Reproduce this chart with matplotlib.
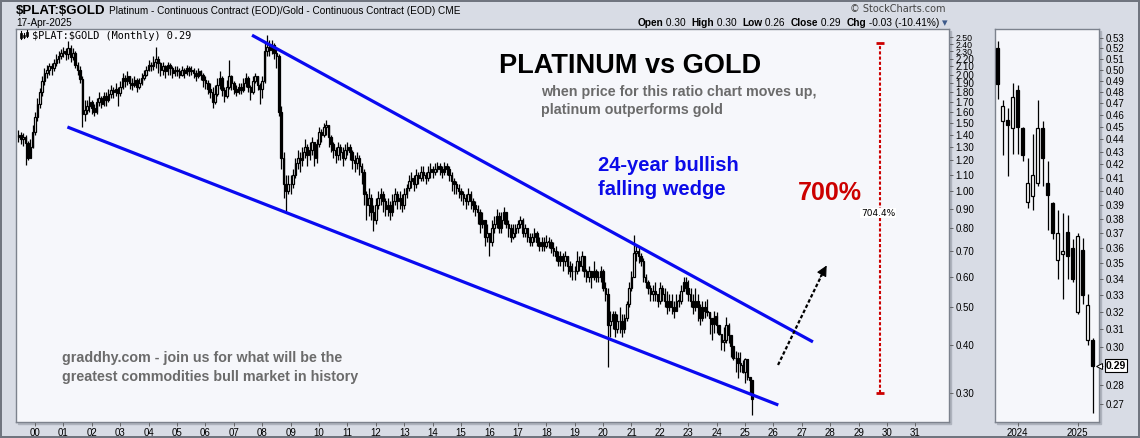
import numpy as np
import matplotlib.pyplot as plt
from matplotlib.patches import Rectangle
from matplotlib.lines import Line2D

# monthly $PLAT:$GOLD candles, Jun 1999 .. Apr 2025 (open = previous close)
first_month = 1999 + 5 / 12.0
closes = [
    1.40, 1.36, 1.38, 1.33, 1.22, 1.30, 1.42,                                # 1999
    1.55, 1.68, 1.80, 1.92, 2.02, 2.05, 2.10, 2.08, 2.15, 2.20, 2.24, 2.28,  # 2000
    2.30, 2.26, 2.35, 2.22, 2.28, 2.12, 2.06, 1.95, 1.58, 1.62, 1.66, 1.70,  # 2001
    1.64, 1.60, 1.70, 1.74, 1.68, 1.76, 1.72, 1.78, 1.82, 1.80, 1.84, 1.79,  # 2002
    1.86, 1.96, 1.92, 1.98, 1.90, 1.88, 1.94, 1.86, 1.90, 1.96, 2.00, 2.05,  # 2003
    2.12, 2.10, 2.16, 2.20, 2.14, 2.06, 2.10, 2.04, 2.12, 2.08, 2.02, 2.06,  # 2004
    2.04, 2.00, 2.06, 2.02, 2.08, 2.04, 2.06, 2.02, 1.98, 2.04, 2.00, 1.94,  # 2005
    1.90, 1.84, 1.80, 1.70, 1.78, 1.88, 1.96, 1.82, 1.76, 1.86, 1.98, 1.90,  # 2006
    1.84, 1.80, 1.86, 1.82, 1.90, 1.96, 1.86, 1.80, 1.92, 1.98, 1.88, 1.84,  # 2007
    1.92, 2.30, 2.36, 2.32, 2.38, 2.28, 2.24, 1.60, 1.22, 1.04, 1.00, 1.04,  # 2008
    1.04, 1.10, 1.18, 1.22, 1.20, 1.26, 1.30, 1.24, 1.28, 1.34, 1.22, 1.32,  # 2009
    1.42, 1.40, 1.46, 1.48, 1.38, 1.32, 1.28, 1.24, 1.30, 1.26, 1.22, 1.28,  # 2010
    1.30, 1.26, 1.20, 1.18, 1.22, 1.16, 1.12, 0.98, 0.92, 0.96, 0.88, 0.84,  # 2011
    0.92, 0.96, 0.98, 0.94, 0.90, 0.92, 0.88, 0.94, 0.98, 0.94, 0.96, 0.92,  # 2012
    0.98, 1.02, 1.06, 1.08, 1.04, 1.10, 1.08, 1.12, 1.10, 1.08, 1.12, 1.14,  # 2013
    1.12, 1.14, 1.16, 1.14, 1.12, 1.16, 1.14, 1.10, 1.06, 1.04, 1.02, 1.00,  # 2014
    0.98, 0.96, 0.94, 0.98, 0.94, 0.92, 0.90, 0.88, 0.82, 0.84, 0.76, 0.78,  # 2015
    0.74, 0.80, 0.82, 0.86, 0.80, 0.84, 0.88, 0.82, 0.80, 0.76, 0.78, 0.80,  # 2016
    0.82, 0.84, 0.78, 0.80, 0.76, 0.74, 0.76, 0.78, 0.74, 0.72, 0.74, 0.72,  # 2017
    0.74, 0.74, 0.71, 0.70, 0.68, 0.66, 0.68, 0.66, 0.68, 0.64, 0.62, 0.62,  # 2018
    0.62, 0.66, 0.64, 0.68, 0.62, 0.60, 0.62, 0.60, 0.62, 0.60, 0.60, 0.62,  # 2019
    0.56, 0.54, 0.45, 0.46, 0.48, 0.44, 0.46, 0.46, 0.44, 0.47, 0.51, 0.56,  # 2020
    0.60, 0.69, 0.70, 0.68, 0.66, 0.60, 0.58, 0.56, 0.54, 0.55, 0.54, 0.52,  # 2021
    0.56, 0.54, 0.52, 0.50, 0.52, 0.50, 0.49, 0.52, 0.52, 0.55, 0.58, 0.56,  # 2022
    0.54, 0.52, 0.50, 0.52, 0.50, 0.47, 0.50, 0.49, 0.487, 0.468, 0.452, 0.476,  # 2023
    0.450, 0.427, 0.406, 0.412, 0.449, 0.425, 0.397, 0.370, 0.370, 0.358, 0.355, 0.340,  # 2024
    0.368, 0.330, 0.324, 0.290,                                              # 2025
]
highs = [
    1.44, 1.42, 1.41, 1.40, 1.35, 1.36, 1.48,
    1.60, 1.74, 1.85, 1.98, 2.08, 2.12, 2.15, 2.14, 2.20, 2.26, 2.30, 2.33,
    2.36, 2.34, 2.44, 2.38, 2.34, 2.30, 2.16, 2.10, 1.98, 1.72, 1.72, 1.76,
    1.72, 1.68, 1.74, 1.80, 1.76, 1.80, 1.80, 1.84, 1.88, 1.86, 1.90, 1.86,
    1.92, 2.02, 2.00, 2.04, 1.98, 1.96, 1.98, 1.96, 1.96, 2.02, 2.06, 2.10,
    2.18, 2.16, 2.24, 2.36, 2.24, 2.16, 2.16, 2.12, 2.16, 2.14, 2.10, 2.10,
    2.10, 2.08, 2.10, 2.08, 2.12, 2.10, 2.10, 2.08, 2.06, 2.08, 2.06, 2.02,
    1.98, 1.94, 1.90, 1.86, 1.88, 1.96, 2.04, 1.98, 1.86, 1.94, 2.18, 2.00,
    1.92, 1.88, 1.90, 1.90, 1.96, 2.02, 1.98, 1.88, 1.98, 2.02, 1.98, 1.90,
    1.98, 2.44, 2.54, 2.46, 2.46, 2.42, 2.36, 2.26, 1.66, 1.26, 1.10, 1.10,
    1.10, 1.14, 1.22, 1.28, 1.26, 1.30, 1.36, 1.32, 1.34, 1.38, 1.34, 1.36,
    1.46, 1.45, 1.50, 1.53, 1.48, 1.40, 1.34, 1.30, 1.34, 1.32, 1.30, 1.32,
    1.34, 1.32, 1.28, 1.24, 1.26, 1.24, 1.18, 1.14, 1.00, 1.02, 0.98, 0.92,
    0.96, 1.00, 1.02, 1.00, 0.96, 0.96, 0.94, 0.98, 1.02, 1.00, 1.00, 0.98,
    1.02, 1.04, 1.10, 1.12, 1.10, 1.14, 1.12, 1.16, 1.16, 1.12, 1.16, 1.18,
    1.16, 1.18, 1.19, 1.18, 1.16, 1.19, 1.18, 1.16, 1.12, 1.08, 1.06, 1.04,
    1.02, 1.00, 0.98, 1.02, 1.00, 0.96, 0.94, 0.92, 0.90, 0.88, 0.84, 0.82,
    0.78, 0.84, 0.86, 0.90, 0.88, 0.88, 0.91, 0.88, 0.84, 0.82, 0.82, 0.82,
    0.84, 0.86, 0.85, 0.82, 0.80, 0.78, 0.78, 0.80, 0.79, 0.76, 0.76, 0.76,
    0.77, 0.76, 0.75, 0.74, 0.72, 0.70, 0.70, 0.69, 0.70, 0.68, 0.66, 0.65,
    0.64, 0.70, 0.68, 0.70, 0.68, 0.63, 0.64, 0.62, 0.66, 0.63, 0.62, 0.64,
    0.63, 0.58, 0.56, 0.49, 0.49, 0.49, 0.48, 0.50, 0.48, 0.48, 0.52, 0.58,
    0.62, 0.77, 0.73, 0.72, 0.69, 0.67, 0.61, 0.59, 0.57, 0.57, 0.58, 0.54,
    0.58, 0.57, 0.56, 0.55, 0.54, 0.54, 0.52, 0.54, 0.54, 0.57, 0.60, 0.60,
    0.59, 0.56, 0.54, 0.56, 0.54, 0.51, 0.52, 0.52, 0.527, 0.473, 0.466, 0.488,
    0.486, 0.450, 0.425, 0.444, 0.473, 0.455, 0.423, 0.392, 0.386, 0.384, 0.383, 0.366,
    0.370, 0.367, 0.331, 0.305,
]
lows = [
    1.34, 1.32, 1.31, 1.17, 1.20, 1.26, 1.29,
    1.40, 1.52, 1.64, 1.76, 1.88, 1.96, 2.00, 2.00, 2.04, 2.10, 2.15, 2.20,
    2.22, 2.18, 2.20, 2.16, 2.18, 2.08, 2.00, 1.90, 1.46, 1.52, 1.58, 1.60,
    1.58, 1.56, 1.58, 1.66, 1.64, 1.66, 1.66, 1.70, 1.74, 1.74, 1.76, 1.66,
    1.76, 1.84, 1.86, 1.88, 1.84, 1.82, 1.86, 1.80, 1.84, 1.88, 1.94, 1.98,
    2.04, 2.04, 2.06, 2.08, 2.02, 1.98, 2.00, 1.96, 2.00, 2.00, 1.96, 1.98,
    1.98, 1.96, 1.98, 1.96, 2.00, 1.98, 2.00, 1.96, 1.92, 1.96, 1.94, 1.86,
    1.84, 1.78, 1.74, 1.64, 1.68, 1.76, 1.84, 1.76, 1.70, 1.74, 1.84, 1.82,
    1.78, 1.76, 1.78, 1.78, 1.80, 1.86, 1.80, 1.72, 1.78, 1.90, 1.82, 1.68,
    1.74, 1.90, 2.24, 2.24, 2.26, 2.20, 2.08, 1.56, 1.14, 0.96, 0.88, 0.98,
    0.98, 1.02, 1.08, 1.14, 1.12, 1.16, 1.22, 1.16, 1.20, 1.24, 1.16, 1.18,
    1.30, 1.34, 1.38, 1.40, 1.30, 1.26, 1.22, 1.18, 1.20, 1.20, 1.16, 1.20,
    1.24, 1.20, 1.14, 1.12, 1.14, 1.10, 1.04, 0.92, 0.84, 0.86, 0.84, 0.79,
    0.82, 0.90, 0.92, 0.88, 0.86, 0.86, 0.84, 0.86, 0.92, 0.90, 0.90, 0.88,
    0.90, 0.96, 1.00, 1.02, 1.00, 1.02, 1.04, 1.06, 1.06, 1.04, 1.06, 1.08,
    1.08, 1.10, 1.12, 1.10, 1.08, 1.10, 1.10, 1.06, 1.00, 0.98, 0.98, 0.96,
    0.94, 0.92, 0.90, 0.92, 0.90, 0.88, 0.86, 0.82, 0.78, 0.80, 0.72, 0.74,
    0.68, 0.72, 0.78, 0.80, 0.78, 0.78, 0.82, 0.80, 0.76, 0.74, 0.75, 0.76,
    0.78, 0.80, 0.76, 0.76, 0.74, 0.72, 0.72, 0.74, 0.72, 0.70, 0.70, 0.70,
    0.71, 0.71, 0.69, 0.68, 0.66, 0.64, 0.64, 0.62, 0.64, 0.61, 0.60, 0.59,
    0.59, 0.61, 0.62, 0.62, 0.60, 0.58, 0.58, 0.56, 0.59, 0.58, 0.58, 0.58,
    0.55, 0.52, 0.35, 0.42, 0.44, 0.42, 0.43, 0.43, 0.42, 0.43, 0.46, 0.50,
    0.55, 0.60, 0.66, 0.65, 0.64, 0.58, 0.56, 0.54, 0.52, 0.52, 0.52, 0.50,
    0.51, 0.52, 0.50, 0.48, 0.49, 0.48, 0.47, 0.49, 0.50, 0.51, 0.55, 0.54,
    0.52, 0.50, 0.48, 0.49, 0.46, 0.45, 0.46, 0.47, 0.474, 0.427, 0.411, 0.428,
    0.428, 0.423, 0.388, 0.386, 0.404, 0.404, 0.372, 0.366, 0.340, 0.328, 0.340, 0.338,
    0.319, 0.325, 0.301, 0.264,
]

# zoomed panel: last 20 monthly candles, Sep 2023 .. Apr 2025
r_open = [0.520, 0.455, 0.456, 0.449, 0.482, 0.449, 0.392, 0.396, 0.406, 0.449,
          0.406, 0.391, 0.352, 0.356, 0.371, 0.360, 0.320, 0.359, 0.304, 0.304]
r_high = [0.527, 0.473, 0.466, 0.488, 0.486, 0.450, 0.425, 0.444, 0.473, 0.455,
          0.423, 0.392, 0.386, 0.384, 0.383, 0.366, 0.370, 0.367, 0.331, 0.305]
r_low = [0.474, 0.427, 0.411, 0.428, 0.428, 0.423, 0.388, 0.386, 0.404, 0.404,
         0.372, 0.366, 0.340, 0.328, 0.340, 0.338, 0.319, 0.325, 0.301, 0.266]
r_close = [0.487, 0.468, 0.452, 0.476, 0.450, 0.427, 0.406, 0.412, 0.449, 0.425,
           0.397, 0.370, 0.370, 0.358, 0.355, 0.340, 0.368, 0.330, 0.324, 0.290]
r_year_ticks = [4, 16]
r_year_labels = ['2024', '2025']

main_yticks = [0.30, 0.40, 0.50, 0.60, 0.70, 0.80, 0.90, 1.00, 1.10, 1.20, 1.30, 1.40,
               1.50, 1.60, 1.70, 1.80, 1.90, 2.00, 2.10, 2.20, 2.30, 2.40, 2.50]
side_yticks = [0.27, 0.28, 0.29, 0.30, 0.31, 0.32, 0.33, 0.34, 0.35, 0.36, 0.37, 0.38, 0.39,
               0.40, 0.41, 0.42, 0.43, 0.44, 0.45, 0.46, 0.47, 0.48, 0.49, 0.50, 0.51, 0.52, 0.53]

plt.rcParams['font.family'] = ['Liberation Sans', 'DejaVu Sans']
plt.rcParams['text.parse_math'] = False

W, H = 1140, 438
BG = '#d8dce5'
PLOTBG = '#f6f7fb'
FRAME = '#7c828d'


def fx(px):
    return px / W


def fy(py):
    return 1 - py / H


def candles(ax, x, o, h, l, c, width, lw):
    o, h, l, c = (np.asarray(v, dtype=float) for v in (o, h, l, c))
    top = np.maximum(o, c)
    bot = np.minimum(o, c)
    ax.vlines(x, np.minimum(l, bot), np.maximum(h, top), color='black', lw=lw, zorder=2)
    fill = np.where(c >= o, 'white', 'black')
    ax.bar(x, np.maximum(top - bot, 0.0008), width, bottom=bot, color=fill,
           edgecolor='black', linewidth=lw, zorder=3)


fig = plt.figure(figsize=(11.4, 4.38), dpi=100)
fig.patch.set_facecolor(BG)
fig.patch.set_edgecolor('#70757f')
fig.patch.set_linewidth(1.5)

# panel shadows
for l, r in [(16, 949), (995, 1099)]:
    fig.add_artist(Rectangle((fx(l + 2), fy(424)), fx(r) - fx(l), fy(29) - fy(422),
                             transform=fig.transFigure, color='#aeb3bd', zorder=-1))

ax = fig.add_axes([fx(16), fy(422), fx(949) - fx(16), fy(29) - fy(422)])
ax2 = fig.add_axes([fx(995), fy(422), fx(1099) - fx(995), fy(29) - fy(422)])

# ---- main monthly panel
c = np.array(closes)
o = np.concatenate([[1.38], c[:-1]])
xm = first_month + np.arange(len(c)) / 12.0
candles(ax, xm, o, highs, lows, c, 0.055, 0.9)

ax.set_yscale('log')
ax.set_ylim(0.2525, 2.625)
ax.set_xlim(1999.33, 2032.18)
ax.set_facecolor(PLOTBG)
ax.yaxis.tick_right()
ax.set_yticks(main_yticks)
ax.set_yticklabels(['%.2f' % v for v in main_yticks])
ax.yaxis.set_minor_locator(plt.NullLocator())
ax.set_xticks(range(2000, 2032))
ax.set_xticklabels(['%02d' % (y % 100) for y in range(2000, 2032)])
for a in (ax, ax2):
    a.tick_params(axis='both', direction='out', length=3, width=0.6, color='#555555',
                  labelsize=7, pad=1.5)
    for s in a.spines.values():
        s.set_color(FRAME)
        s.set_linewidth(1)
# the top labels of the log axis sit very close together, as in the original
for lab, v in zip(ax.get_yticklabels(), main_yticks):
    if v > 2.25:
        lab.set_fontsize(6.3)

# wedge
ax.plot([2007.64, 2027.39], [2.53, 0.407], color='#0a0af0', lw=2.3, solid_capstyle='butt', zorder=4)
ax.plot([2001.14, 2026.17], [1.464, 0.2794], color='#0a0af0', lw=2.3, solid_capstyle='butt', zorder=4)

# dotted breakout arrow
ax.plot([2026.16, 2027.75], [0.3547, 0.617], color='black', lw=1.6,
        linestyle=(0, (1.6, 1.0)), zorder=4)
ax.annotate('', xy=(2027.92, 0.651), xytext=(2027.6, 0.59),
            arrowprops=dict(arrowstyle='-|>', color='black', lw=0.8, mutation_scale=16), zorder=4)

# 700% measuring line
ax.plot([2029.75, 2029.75], [0.30, 2.413], color='#cc0000', lw=1.5,
        linestyle=(0, (1.5, 1.0)), zorder=4)
ax.plot([2029.75, 2029.75], [0.30, 2.413], linestyle='none', marker='_', ms=6, mew=2,
        color='#cc0000', zorder=4)
ax.text(2029.68, 0.877, '704.4%', fontsize=6.5, family=['DejaVu Sans'], ha='center', va='center',
        bbox=dict(boxstyle='square,pad=0.1', fc='white', ec='none'), zorder=5)

# ---- zoomed panel
xr = np.arange(len(r_close))
candles(ax2, xr, r_open, r_high, r_low, r_close, 0.7, 0.9)
ax2.set_yscale('log')
ax2.set_ylim(0.2614, 0.539)
ax2.set_xlim(-0.55, 20.3)
ax2.set_facecolor(PLOTBG)
ax2.yaxis.tick_right()
ax2.set_yticks(side_yticks)
ax2.set_yticklabels(['' if abs(v - 0.29) < 1e-6 else '%.2f' % v for v in side_yticks])
ax2.yaxis.set_minor_locator(plt.NullLocator())
ax2.set_xticks(r_year_ticks)
ax2.set_xticklabels(r_year_labels)
ax2.annotate('0.29', xy=(1.0, r_close[-1]), xycoords=('axes fraction', 'data'),
             xytext=(5, 0), textcoords='offset points', fontsize=7.5, fontweight='bold',
             ha='left', va='center', annotation_clip=False,
             bbox=dict(boxstyle='square,pad=0.12', fc='white', ec='black', lw=0.8))
ax2.plot([1.0], [r_close[-1]], marker='<', ms=5, mfc='white', mec='black', mew=0.7,
         transform=ax2.get_yaxis_transform(), clip_on=False, zorder=6)

# ---- header
fig.text(fx(16), fy(14), '$PLAT:$GOLD', fontsize=9.5, fontweight='bold', va='baseline')
fig.text(fx(109), fy(14), 'Platinum - Continuous Contract (EOD)/Gold - Continuous Contract (EOD) CME',
         fontsize=7.2, va='baseline')
fig.text(fx(16), fy(26), '17-Apr-2025', fontsize=7.2, va='baseline')
fig.text(fx(946), fy(12), '\u00a9 StockCharts.com', fontsize=7, color='#444444', ha='right',
         va='baseline', family=['DejaVu Sans'])

renderer = fig.canvas.get_renderer()
pieces = [('Open', 'bold'), (' 0.30  ', 'normal'), ('High', 'bold'), (' 0.30  ', 'normal'),
          ('Low', 'bold'), (' 0.26  ', 'normal'), ('Close', 'bold'), (' 0.29  ', 'normal'),
          ('Chg', 'bold'), (' -0.03 (-10.41%) ', 'normal')]
xpos = 0.0
texts = []
for s, w in pieces:
    t = fig.text(xpos, fy(26), s, fontsize=7.3, fontweight=w, va='baseline')
    xpos = t.get_window_extent(renderer).x1 / W
    texts.append(t)
tri = fig.text(xpos, fy(26), '\u25be', fontsize=8, color='#3d5a8a', va='baseline',
               family=['DejaVu Sans'])
texts.append(tri)
end = tri.get_window_extent(renderer).x1 / W
shift = fx(948) - end
for t in texts:
    t.set_x(t.get_position()[0] + shift)

# legend line inside the plot
fig.text(fx(32), fy(39), '$PLAT:$GOLD (Monthly) 0.29', fontsize=7.4,
         family=['DejaVu Sans Mono'], va='baseline')
for px, y0, y1, filled in [(21, 31, 39, True), (24, 33, 38, False), (27, 30, 37, True)]:
    fig.add_artist(Line2D([fx(px), fx(px)], [fy(y1), fy(y0)], color='black', lw=0.8,
                          transform=fig.transFigure))
    fig.add_artist(Rectangle((fx(px - 1), fy(y1 - 1)), fx(2), fy(y0 + 2) - fy(y1 - 1),
                             transform=fig.transFigure, fc='black' if filled else 'white',
                             ec='black', lw=0.5))

# ---- annotations
fig.text(fx(499), fy(73), 'PLATINUM vs GOLD', fontsize=19.5, fontweight='bold', va='baseline')
fig.text(fx(541), fy(96), 'when price for this ratio chart moves up,', fontsize=10.3,
         fontweight='bold', color='#6b6b6b', va='baseline')
fig.text(fx(541), fy(114), 'platinum outperforms gold', fontsize=10.3,
         fontweight='bold', color='#6b6b6b', va='baseline')
fig.text(fx(598), fy(171), '24-year bullish', fontsize=14.5, fontweight='bold',
         color='#0b0be8', va='baseline')
fig.text(fx(598), fy(195), 'falling wedge', fontsize=14.5, fontweight='bold',
         color='#0b0be8', va='baseline')
fig.text(fx(798), fy(200), '700%', fontsize=18, fontweight='bold', color='#cc0000', va='baseline')
fig.text(fx(62), fy(362), 'graddhy.com - join us for what will be the', fontsize=10.3,
         fontweight='bold', color='#6b6b6b', va='baseline')
fig.text(fx(62), fy(381), 'greatest commodities bull market in history', fontsize=10.3,
         fontweight='bold', color='#6b6b6b', va='baseline')

fig.savefig('out.png', dpi=100, facecolor=fig.get_facecolor(), edgecolor=fig.get_edgecolor())
